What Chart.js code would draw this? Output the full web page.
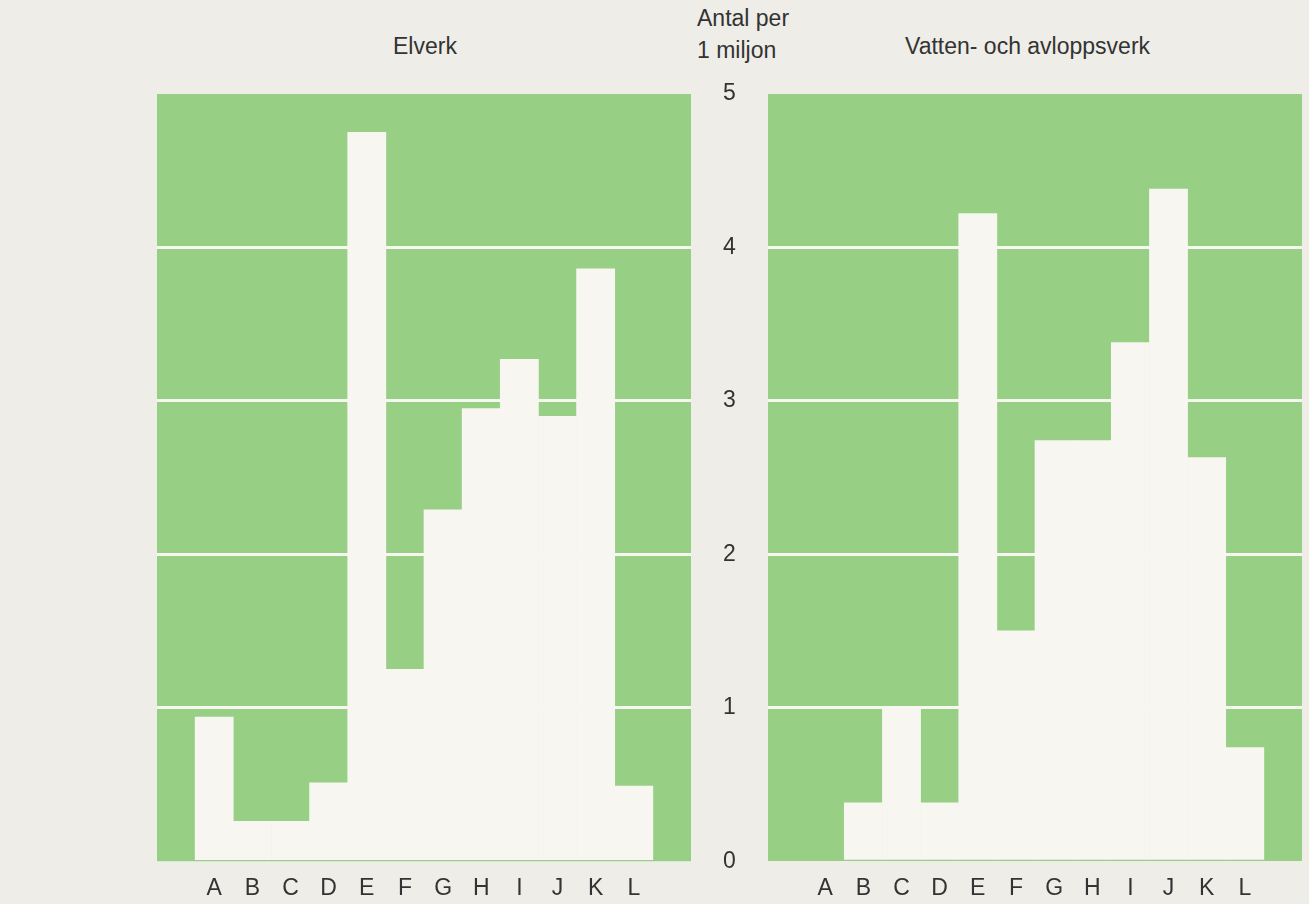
<!DOCTYPE html>
<html>
<head>
<meta charset="utf-8">
<script src="https://cdn.jsdelivr.net/npm/chart.js@4"></script>
<style>
  body { margin: 0; background: #eeede8; width: 1309px; height: 904px; overflow: hidden; position: relative;
         font-family: "Liberation Sans", Arial, sans-serif; color: #333; }
  canvas { position: absolute; }
  .lbl { position: absolute; font-size: 23px; white-space: nowrap; }
</style>
</head>
<body>
<div class="lbl" style="left:393px;top:33px;">Elverk</div>
<div class="lbl" style="left:905px;top:33px;">Vatten- och avloppsverk</div>
<div class="lbl" style="left:697px;top:5px;">Antal per</div>
<div class="lbl" style="left:697px;top:37px;">1 miljon</div>
<canvas id="elChart" width="768" height="904" style="left:0;top:3px"></canvas>
<canvas id="vaChart" width="541" height="904" style="left:768px;top:0"></canvas>
<script>
const categories = ['A', 'B', 'C', 'D', 'E', 'F', 'G', 'H', 'I', 'J', 'K', 'L'];
const elverk     = [0.94, 0.26, 0.26, 0.51, 4.75, 1.25, 2.29, 2.95, 3.27, 2.90, 3.86, 0.49];
const vatten     = [null, 0.38, 1.0, 0.38, 4.22, 1.50, 2.74, 2.74, 3.38, 4.38, 2.63, 0.74];
const yTicks     = [0, 1, 2, 3, 4, 5];

const GREEN = '#97cf84';
const BAR   = '#f7f6f1';
const TEXT  = '#333333';

// one empty slot on each side of the twelve groups
const slots = ['', ...categories, ''];
const pad = vals => [null, ...vals, null];

const greenBg = {
  id: 'greenBg',
  beforeDraw(chart) {
    const { ctx, chartArea: a } = chart;
    ctx.save();
    ctx.fillStyle = GREEN;
    ctx.fillRect(a.left, a.top, a.right - a.left, a.bottom - a.top);
    ctx.restore();
  }
};

function makeChart(id, values, xHeight, padding) {
  return new Chart(document.getElementById(id), {
    type: 'bar',
    data: {
      labels: slots,
      datasets: [{ data: pad(values), backgroundColor: BAR, borderWidth: 0,
                   barPercentage: 1, categoryPercentage: 1 }]
    },
    options: {
      responsive: false,
      animation: false,
      layout: { padding },
      plugins: { legend: { display: false }, tooltip: { enabled: false } },
      scales: {
        x: {
          grid: { display: false },
          border: { display: false },
          ticks: { color: TEXT, font: { size: 23, family: 'Liberation Sans' }, padding: 6, maxRotation: 0, autoSkip: false },
          afterFit: s => { s.height = xHeight; }
        },
        y: {
          position: 'right',
          min: 0, max: 5,
          afterBuildTicks: s => { s.ticks = yTicks.map(v => ({ value: v })); },
          border: { display: false },
          grid: {
            drawTicks: false,
            lineWidth: 3,
            color: c => (c.tick && c.tick.value > 0 && c.tick.value < 5) ? '#f7f7f2' : 'rgba(0,0,0,0)'
          },
          ticks: { color: TEXT, font: { size: 23, family: 'Liberation Sans' }, padding: 32, crossAlign: 'center' },
          afterFit: s => { s.width = 77; }
        }
      }
    },
    plugins: [greenBg]
  });
}

makeChart('elChart', elverk, 40, { left: 157, top: 91, right: 0, bottom: 0 });

// right panel: white gridlines need the y scale, but no labels
const va = makeChart('vaChart', vatten, 43, { left: 0, top: 94, right: 7, bottom: 0 });
va.options.scales.y.ticks.display = false;
va.options.scales.y.afterFit = s => { s.width = 0; };
va.update();
</script>
</body>
</html>
